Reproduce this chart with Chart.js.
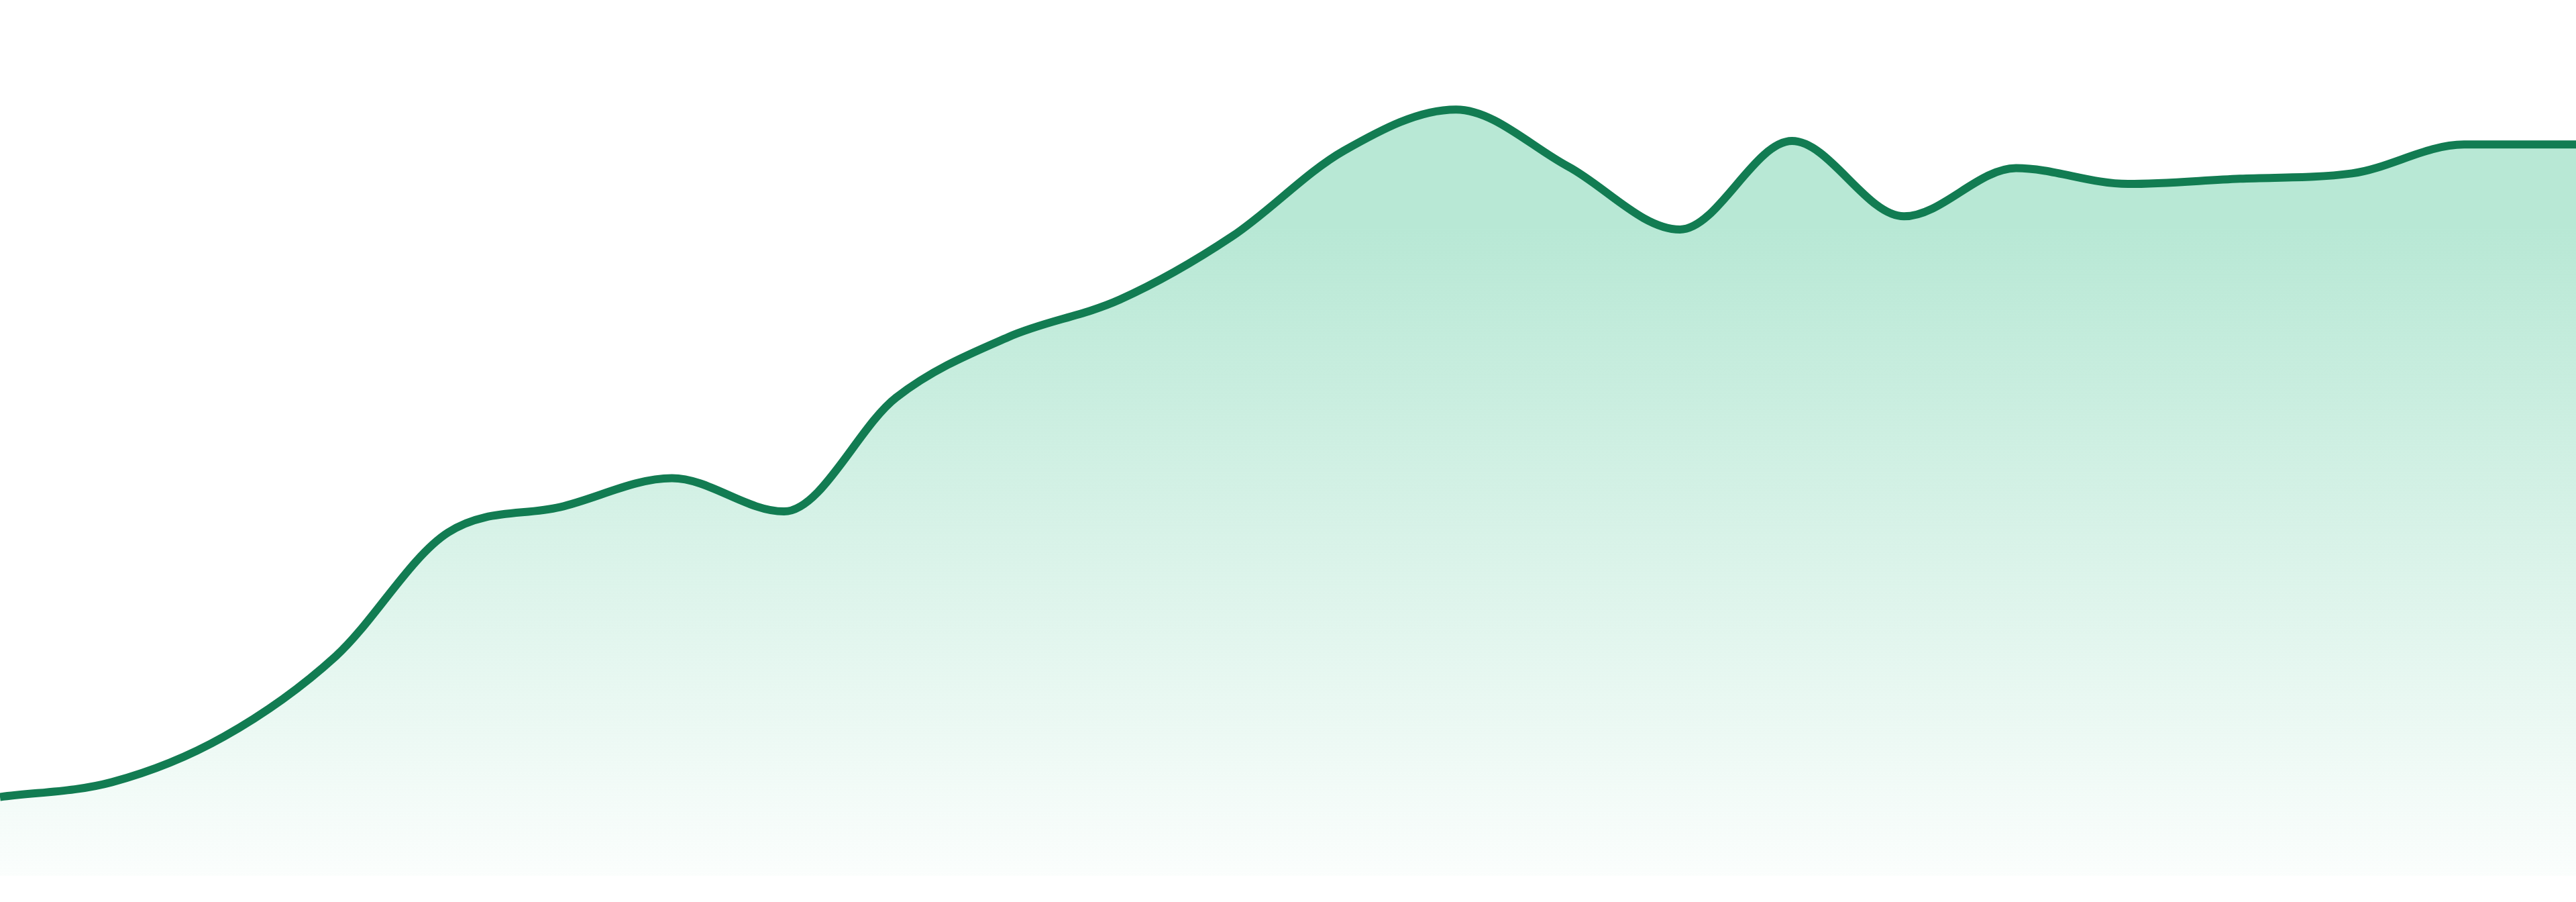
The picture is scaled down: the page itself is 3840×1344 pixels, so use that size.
<!DOCTYPE html>
<html>
<head>
<meta charset="utf-8">
<title>Area chart</title>
<script src="https://cdn.jsdelivr.net/npm/chart.js@4/dist/chart.umd.min.js"></script>
<style>
  html, body { margin: 0; padding: 0; background: #ffffff; }
  #wrap { width: 3840px; height: 1344px; }
</style>
</head>
<body>
<div id="wrap"><canvas id="areaChart" width="3840" height="1344"></canvas></div>
<script>
// Chart data (y scale 0-100)
const labels = [
  "1", "2", "3", "4", "5", "6", "7", "8", "9", "10", "11", "12",
  "13", "14", "15", "16", "17", "18", "19", "20", "21", "22", "23", "24"
];
const values = [
  9.0, 10.7, 15.9, 25.1, 39.2, 42.1, 45.4, 41.6, 54.6, 61.5, 65.8, 73.0,
  82.8, 87.5, 81.0, 73.8, 83.9, 75.3, 80.8, 79.0, 79.6, 80.2, 83.5, 83.5
];
const yMin = 0;
const yMax = 100;

// Fill gradient: solid near the top, fading out toward the baseline
function areaGradient(context) {
  const chart = context.chart;
  const area = chart.chartArea;
  if (!area) return "rgba(184, 232, 213, 0.6)";
  const g = chart.ctx.createLinearGradient(0, area.top, 0, area.bottom);
  g.addColorStop(0, "rgba(184, 232, 213, 1)");
  g.addColorStop(0.26, "rgba(184, 232, 213, 1)");
  g.addColorStop(1, "rgba(184, 232, 213, 0.06)");
  return g;
}

const ctx = document.getElementById("areaChart").getContext("2d");
new Chart(ctx, {
  type: "line",
  data: {
    labels: labels,
    datasets: [
      {
        data: values,
        borderColor: "#127c52",
        borderWidth: 12,
        backgroundColor: areaGradient,
        fill: "start",
        cubicInterpolationMode: "monotone",
        pointRadius: 0,
        pointHoverRadius: 0,
      },
    ],
  },
  options: {
    responsive: false,
    devicePixelRatio: 1,
    animation: false,
    layout: { padding: { top: 0, right: 0, bottom: 39, left: 0 } },
    plugins: {
      legend: { display: false },
      tooltip: { enabled: false },
    },
    scales: {
      x: { display: false, offset: false },
      y: { display: false, min: yMin, max: yMax },
    },
  },
});
</script>
</body>
</html>
